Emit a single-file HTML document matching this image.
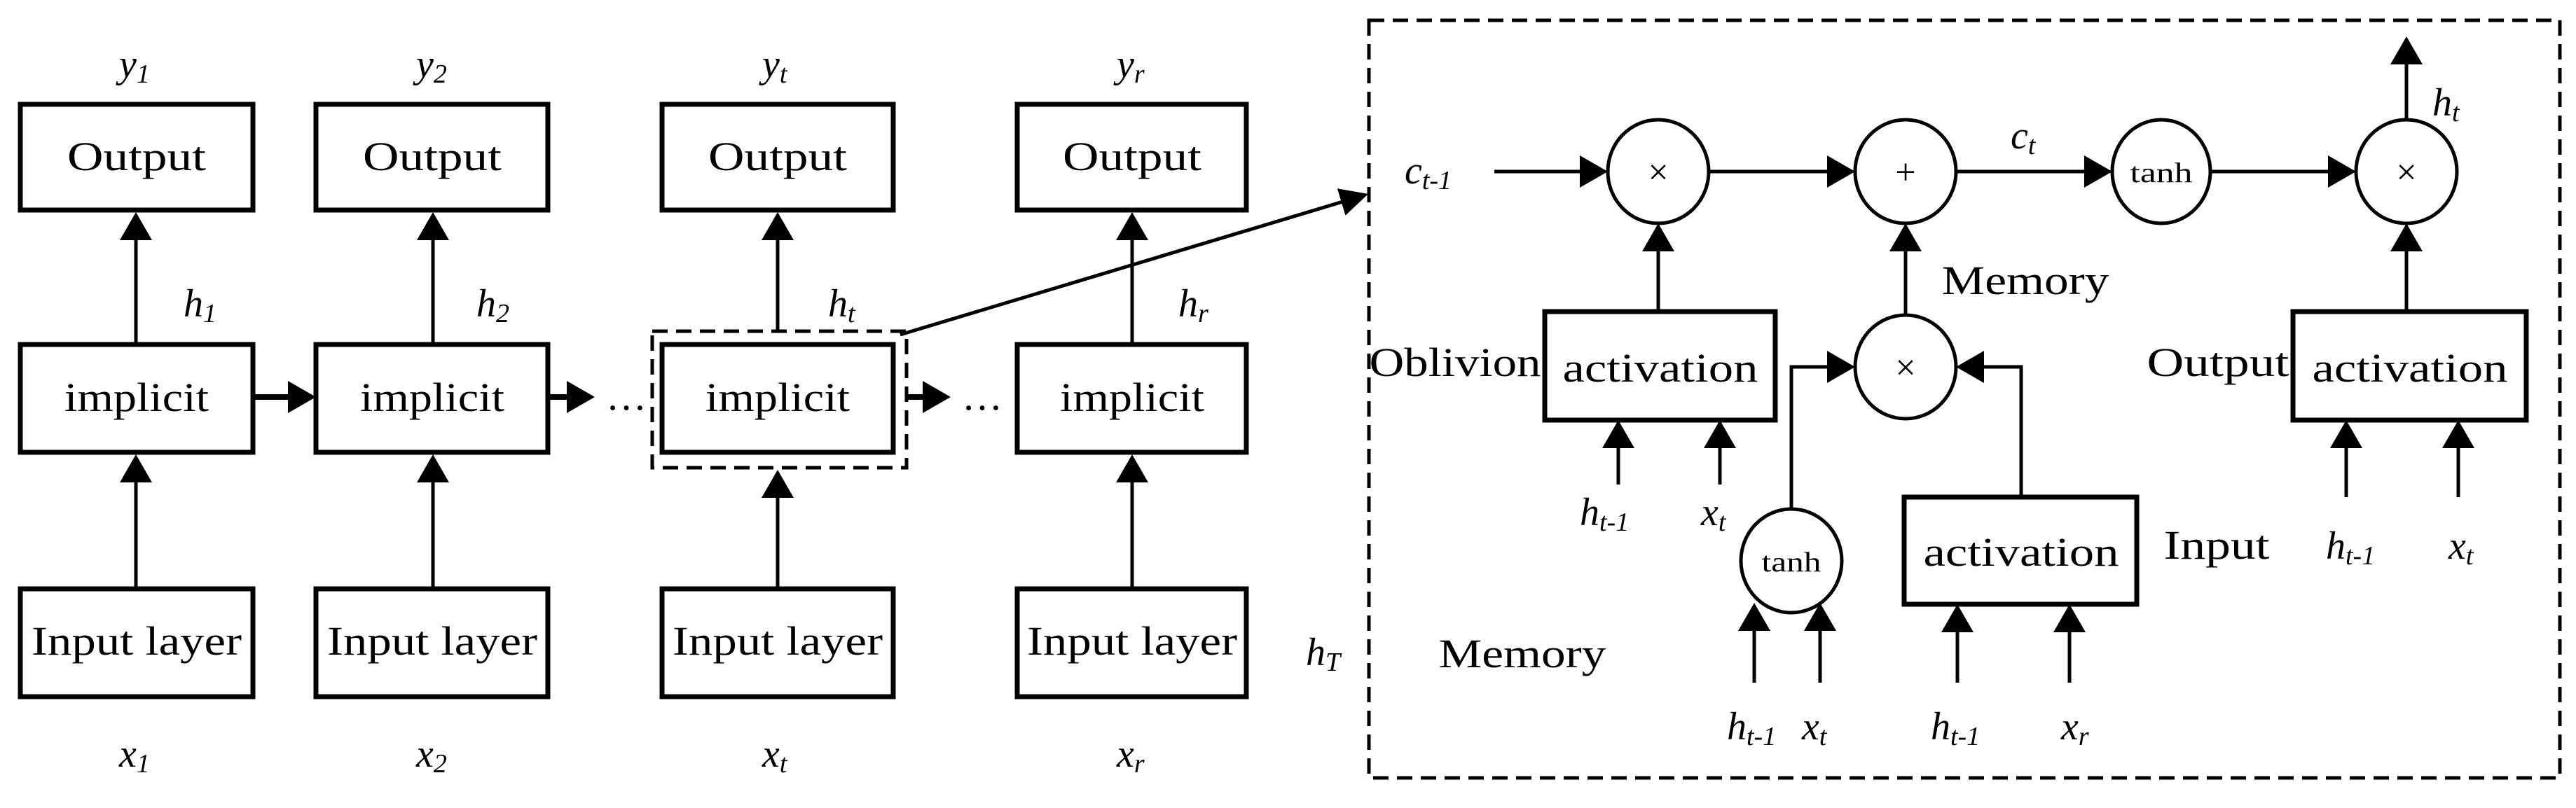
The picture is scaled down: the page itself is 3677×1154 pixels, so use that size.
<!DOCTYPE html>
<html><head><meta charset="utf-8"><style>
html,body{margin:0;padding:0;background:#fff;}
svg{display:block;}
text{font-family:"Liberation Serif",serif;fill:#000;}
.t{font-size:58px;}
.i{font-size:56px;font-style:italic;}
.s{font-size:38px;font-style:italic;}
.g{font-size:52px;fill:#444;}
</style></head><body>
<svg width="3677" height="1154" viewBox="0 0 3677 1154" xmlns="http://www.w3.org/2000/svg">
<g fill="none" stroke="#000" stroke-width="7">
<rect x="29" y="149" width="332" height="151"/><rect x="451" y="149" width="331" height="151"/>
<rect x="945" y="149" width="330" height="151"/><rect x="1452" y="149" width="327" height="151"/>
<rect x="29" y="492" width="332" height="154"/><rect x="451" y="492" width="331" height="154"/>
<rect x="945" y="492" width="330" height="154"/><rect x="1452" y="492" width="327" height="154"/>
<rect x="29" y="841" width="332" height="154"/><rect x="451" y="841" width="331" height="154"/>
<rect x="945" y="841" width="330" height="154"/><rect x="1452" y="841" width="327" height="154"/>
<rect x="2205" y="445" width="329" height="155"/><rect x="3273" y="445" width="333" height="155"/>
<rect x="2718" y="710" width="332" height="153"/>
</g>
<g fill="none" stroke="#000" stroke-width="5" stroke-dasharray="22 12">
<rect x="931" y="473" width="363" height="195"/>
<rect x="1954" y="29" width="1700" height="1082"/>
</g>
<g fill="none" stroke="#000" stroke-width="5">
<line x1="194" y1="492" x2="194" y2="330"/><line x1="618" y1="492" x2="618" y2="330"/>
<line x1="1110" y1="473" x2="1110" y2="330"/><line x1="1616" y1="492" x2="1616" y2="330"/>
<line x1="194" y1="841" x2="194" y2="680"/><line x1="618" y1="841" x2="618" y2="680"/>
<line x1="1110" y1="841" x2="1110" y2="700"/><line x1="1616" y1="841" x2="1616" y2="680"/>
<line x1="361" y1="567" x2="420" y2="567" stroke-width="8"/><line x1="782" y1="567" x2="820" y2="567" stroke-width="8"/>
<line x1="1294" y1="567" x2="1325" y2="567" stroke-width="8"/>
<line x1="1285" y1="478" x2="1920" y2="287"/>
<ellipse cx="2367" cy="245" rx="72" ry="74"/><ellipse cx="2720" cy="245" rx="72" ry="74"/>
<ellipse cx="3085" cy="245" rx="70" ry="74"/><ellipse cx="3435" cy="245" rx="72" ry="74"/>
<ellipse cx="2720" cy="524" rx="72" ry="74"/><ellipse cx="2557" cy="801" rx="72" ry="74"/>
<line x1="2133" y1="245" x2="2260" y2="245"/><line x1="2441" y1="245" x2="2610" y2="245"/>
<line x1="2794" y1="245" x2="2980" y2="245"/><line x1="3157" y1="245" x2="3325" y2="245"/>
<line x1="3435" y1="171" x2="3435" y2="85"/>
<line x1="2367" y1="445" x2="2367" y2="350"/><line x1="2720" y1="450" x2="2720" y2="350"/>
<line x1="3435" y1="445" x2="3435" y2="350"/>
<line x1="2310" y1="692" x2="2310" y2="630"/><line x1="2455" y1="692" x2="2455" y2="630"/>
<line x1="3349" y1="710" x2="3349" y2="630"/><line x1="3509" y1="710" x2="3509" y2="630"/>
<path d="M2557,727 V524 H2615"/><path d="M2885,710 V524 H2825"/>
<line x1="2504" y1="975" x2="2504" y2="890"/><line x1="2598" y1="975" x2="2598" y2="890"/>
<line x1="2794" y1="975" x2="2794" y2="890"/><line x1="2954" y1="975" x2="2954" y2="890"/>
</g>
<g fill="#000">
<polygon points="194,303 171,343 217,343"/><polygon points="618,303 595,343 641,343"/>
<polygon points="1110,303 1087,343 1133,343"/><polygon points="1616,303 1593,343 1639,343"/>
<polygon points="194,649 171,689 217,689"/><polygon points="618,649 595,689 641,689"/>
<polygon points="1110,671 1087,711 1133,711"/><polygon points="1616,649 1593,689 1639,689"/>
<polygon points="451,567 411,544 411,590"/><polygon points="849,567 809,544 809,590"/>
<polygon points="1357,567 1317,544 1317,590"/>
<polygon points="1953,277 1920.5,307.7 1908.9,269.3"/>
<polygon points="2295,245 2255,222 2255,268"/><polygon points="2648,245 2608,222 2608,268"/>
<polygon points="3015,245 2975,222 2975,268"/><polygon points="3363,245 3323,222 3323,268"/>
<polygon points="3435,52 3412,92 3458,92"/>
<polygon points="2367,319 2344,359 2390,359"/><polygon points="2720,319 2697,359 2743,359"/>
<polygon points="3435,319 3412,359 3458,359"/>
<polygon points="2310,600 2287,640 2333,640"/><polygon points="2455,600 2432,640 2478,640"/>
<polygon points="3349,600 3326,640 3372,640"/><polygon points="3509,600 3486,640 3532,640"/>
<polygon points="2648,524 2608,501 2608,547"/><polygon points="2792,524 2832,501 2832,547"/>
<polygon points="2504,861 2481,901 2527,901"/><polygon points="2598,861 2575,901 2621,901"/>
<polygon points="2794,863 2771,903 2817,903"/><polygon points="2954,863 2931,903 2977,903"/>
</g>
<g class="t" text-anchor="middle">
<text x="195" y="243" textLength="198" lengthAdjust="spacingAndGlyphs">Output</text>
<text x="617" y="243" textLength="198" lengthAdjust="spacingAndGlyphs">Output</text>
<text x="1110" y="243" textLength="198" lengthAdjust="spacingAndGlyphs">Output</text>
<text x="1616" y="243" textLength="198" lengthAdjust="spacingAndGlyphs">Output</text>
<text x="195" y="587" textLength="206" lengthAdjust="spacingAndGlyphs">implicit</text>
<text x="617" y="587" textLength="206" lengthAdjust="spacingAndGlyphs">implicit</text>
<text x="1110" y="587" textLength="206" lengthAdjust="spacingAndGlyphs">implicit</text>
<text x="1616" y="587" textLength="206" lengthAdjust="spacingAndGlyphs">implicit</text>
<text x="195" y="935" textLength="300" lengthAdjust="spacingAndGlyphs">Input layer</text>
<text x="617" y="935" textLength="300" lengthAdjust="spacingAndGlyphs">Input layer</text>
<text x="1110" y="935" textLength="300" lengthAdjust="spacingAndGlyphs">Input layer</text>
<text x="1616" y="935" textLength="300" lengthAdjust="spacingAndGlyphs">Input layer</text>
<text x="2370" y="545" textLength="279" lengthAdjust="spacingAndGlyphs">activation</text>
<text x="3440" y="545" textLength="279" lengthAdjust="spacingAndGlyphs">activation</text>
<text x="2885" y="808" textLength="279" lengthAdjust="spacingAndGlyphs">activation</text>
<text x="2891" y="420" textLength="239" lengthAdjust="spacingAndGlyphs">Memory</text>
<text x="2173" y="953" textLength="239" lengthAdjust="spacingAndGlyphs">Memory</text>
<text x="2077" y="537" textLength="245" lengthAdjust="spacingAndGlyphs">Oblivion</text>
<text x="3166" y="537" textLength="203" lengthAdjust="spacingAndGlyphs">Output</text>
<text x="3164" y="798" textLength="151" lengthAdjust="spacingAndGlyphs">Input</text>
</g>
<g text-anchor="middle" style="font-size:40px">
<text x="3085" y="260" textLength="89" lengthAdjust="spacingAndGlyphs">tanh</text>
<text x="2557" y="816" textLength="85" lengthAdjust="spacingAndGlyphs">tanh</text>
</g>
<g class="g" text-anchor="middle">
<text x="2367" y="263">×</text><text x="2720" y="263">+</text>
<text x="3435" y="263">×</text><text x="2720" y="542">×</text>
</g>
<g class="i">
<text x="170" y="110">y<tspan class="s" dy="8">1</tspan></text>
<text x="594" y="110">y<tspan class="s" dy="8">2</tspan></text>
<text x="1088" y="110">y<tspan class="s" dy="8">t</tspan></text>
<text x="1594" y="110">y<tspan class="s" dy="8">r</tspan></text>
<text x="262" y="452">h<tspan class="s" dy="8">1</tspan></text>
<text x="680" y="452">h<tspan class="s" dy="8">2</tspan></text>
<text x="1182" y="452">h<tspan class="s" dy="8">t</tspan></text>
<text x="1682" y="452">h<tspan class="s" dy="8">r</tspan></text>
<text x="170" y="1095">x<tspan class="s" dy="8">1</tspan></text>
<text x="594" y="1095">x<tspan class="s" dy="8">2</tspan></text>
<text x="1088" y="1095">x<tspan class="s" dy="8">t</tspan></text>
<text x="1594" y="1095">x<tspan class="s" dy="8">r</tspan></text>
<text x="1864" y="950">h<tspan class="s" dy="8">T</tspan></text>
<text x="2005" y="262">c<tspan class="s" dy="8">t-1</tspan></text>
<text x="2870" y="212">c<tspan class="s" dy="8">t</tspan></text>
<text x="3472" y="165">h<tspan class="s" dy="8">t</tspan></text>
<text x="2255" y="750">h<tspan class="s" dy="8">t-1</tspan></text>
<text x="2428" y="750">x<tspan class="s" dy="8">t</tspan></text>
<text x="3320" y="798">h<tspan class="s" dy="8">t-1</tspan></text>
<text x="3495" y="798">x<tspan class="s" dy="8">t</tspan></text>
<text x="2465" y="1056">h<tspan class="s" dy="8">t-1</tspan></text>
<text x="2572" y="1056">x<tspan class="s" dy="8">t</tspan></text>
<text x="2756" y="1056">h<tspan class="s" dy="8">t-1</tspan></text>
<text x="2942" y="1056">x<tspan class="s" dy="8">r</tspan></text>
</g>
<g style="font-size:58px" text-anchor="middle">
<text x="894" y="585">…</text><text x="1402" y="585">…</text>
</g>
</svg>
</body></html>
